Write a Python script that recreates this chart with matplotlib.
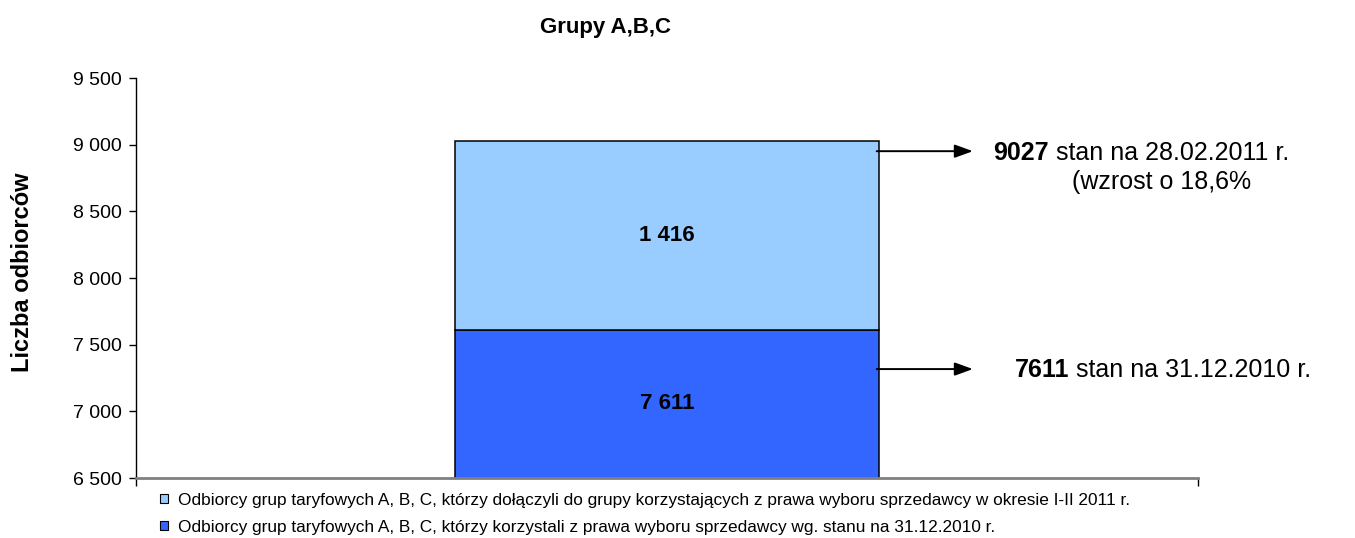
import matplotlib
matplotlib.use('Agg')
import matplotlib.pyplot as plt
from matplotlib.patches import Patch
from matplotlib.ticker import FuncFormatter

plt.rcParams['font.family'] = ['Liberation Sans', 'DejaVu Sans']

# data
chart_title = 'Grupy A,B,C'
y_label = 'Liczba odbiorców'
base_values = [7611]      # stan na 31.12.2010
new_values = [1416]       # dołączyli w okresie I-II 2011
growth_pct = 18.6
date_base = '31.12.2010 r.'
date_new = '28.02.2011 r.'
legend_labels = [
    'Odbiorcy grup taryfowych A, B, C, którzy dołączyli do grupy korzystających '
    'z prawa wyboru sprzedawcy w okresie I-II 2011 r.',
    'Odbiorcy grup taryfowych A, B, C, którzy korzystali z prawa wyboru sprzedawcy '
    'wg. stanu na 31.12.2010 r.',
]
y_ticks = [6500, 7000, 7500, 8000, 8500, 9000, 9500]

dark_blue = '#3366FF'
light_blue = '#99CCFF'

fig = plt.figure(figsize=(13.55, 5.38), dpi=100)
ax = fig.add_axes([0.1004, 0.1115, 0.7837, 0.7435])

x = [0]
ax.bar(x, base_values, width=0.4, color=dark_blue, edgecolor='black', linewidth=1.1)
ax.bar(x, new_values, width=0.4, bottom=base_values, color=light_blue,
       edgecolor='black', linewidth=1.1)

ax.set_xlim(-0.5, 0.5)
ax.set_ylim(y_ticks[0], y_ticks[-1])
ax.set_yticks(y_ticks)
ax.yaxis.set_major_formatter(FuncFormatter(lambda v, p: f'{int(v):,}'.replace(',', ' ')))
ax.tick_params(axis='y', labelsize=14, length=5, width=1, pad=5)
ax.set_xticks([-0.5, 0.5])
ax.set_xticklabels([])
ax.tick_params(axis='x', length=6, width=1, colors='black')

for s in ['top', 'right']:
    ax.spines[s].set_visible(False)
ax.spines['left'].set_linewidth(1)
ax.spines['bottom'].set_color('#808080')
ax.spines['bottom'].set_linewidth(2)

# value labels inside the segments
for xi, b, n in zip(x, base_values, new_values):
    ax.text(xi, (y_ticks[0] + b) / 2, f'{b:,}'.replace(',', ' '), ha='center',
            va='center', fontsize=16, fontweight='bold')
    ax.text(xi, b + n / 2, f'{n:,}'.replace(',', ' '), ha='center',
            va='center', fontsize=16, fontweight='bold')

fig.text(0.447, 0.949, chart_title, ha='center', va='center', fontsize=16,
         fontweight='bold')
fig.text(0.0166, 0.494, y_label, ha='center', va='center', rotation=90,
         fontsize=17, fontweight='bold')

# arrows with the side notes
arrow = dict(arrowstyle='-|>,head_length=1.1,head_width=0.4', color='black',
             lw=1.4, mutation_scale=10, shrinkA=0, shrinkB=0)
ax.annotate('', xy=(0.718, 0.719), xytext=(0.647, 0.719),
            xycoords='figure fraction', textcoords='figure fraction', arrowprops=arrow)
ax.annotate('', xy=(0.718, 0.314), xytext=(0.647, 0.314),
            xycoords='figure fraction', textcoords='figure fraction', arrowprops=arrow)

total = base_values[0] + new_values[0]
t1 = fig.text(0.733, 0.7156, f'{total}', ha='left', va='center', fontsize=18,
              fontweight='bold')
ax.annotate(f' stan na {date_new}', xy=(1, 0), xycoords=t1, ha='left', va='bottom',
            fontsize=18)
fig.text(0.857, 0.6617, f'(wzrost o {growth_pct:.1f}%'.replace('.', ','),
         ha='center', va='center', fontsize=18)
t2 = fig.text(0.749, 0.3123, f'{base_values[0]}', ha='left', va='center', fontsize=18,
              fontweight='bold')
ax.annotate(f' stan na {date_base}', xy=(1, 0), xycoords=t2, ha='left', va='bottom',
            fontsize=18)

handles = [Patch(facecolor=light_blue, edgecolor='black', linewidth=0.8),
           Patch(facecolor=dark_blue, edgecolor='black', linewidth=0.8)]
fig.legend(handles, legend_labels, loc='upper left', bbox_to_anchor=(0.118, 0.084),
           frameon=False, fontsize=12.4, handlelength=0.45, handleheight=0.45,
           handletextpad=0.6, labelspacing=0.68, borderpad=0, borderaxespad=0)

fig.savefig('out.png', dpi=100)
